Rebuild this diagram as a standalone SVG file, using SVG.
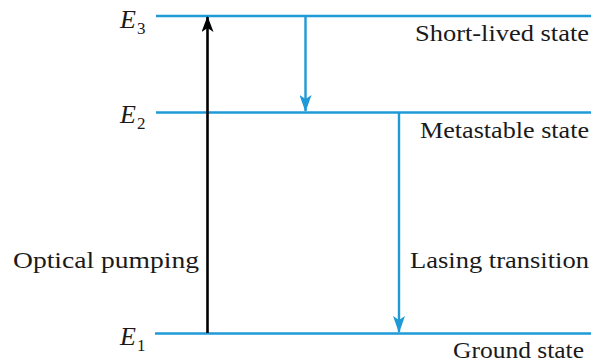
<svg xmlns="http://www.w3.org/2000/svg" width="591" height="363" viewBox="0 0 591 363">
  <style>
    .lvl { stroke: #1f9ad6; stroke-width: 2.6; fill: none; }
    .blue { stroke: #1f9ad6; stroke-width: 2.4; fill: none; }
    .black { stroke: #000; stroke-width: 2.6; fill: none; }
    .lbl { font-family: "Liberation Serif", serif; font-size: 24px; fill: #1a1a1a; }
    .e { font-family: "Liberation Serif", serif; font-size: 26px; font-style: italic; fill: #1a1a1a; }
    .sub { font-family: "Liberation Serif", serif; font-size: 17px; fill: #1a1a1a; }
  </style>
  <defs>
    <marker id="ahBlack" viewBox="0 0 16 12" refX="15" refY="6" markerWidth="16" markerHeight="12" markerUnits="userSpaceOnUse" orient="auto">
      <path d="M0,0 L16,6 L0,12 L4,6 Z" fill="#000"/>
    </marker>
    <marker id="ahBlue" viewBox="0 0 17 12" refX="16" refY="6" markerWidth="17" markerHeight="12" markerUnits="userSpaceOnUse" orient="auto">
      <path d="M0,0 L17,6 L0,12 L4,6 Z" fill="#1f9ad6"/>
    </marker>
  </defs>

  <g id="level-E3">
    <line class="lvl" x1="156" y1="16" x2="591" y2="16"/>
    <text class="e" x="120" y="28">E</text><text class="sub" x="137" y="34">3</text>
    <text class="lbl" x="415" y="41" textLength="174" lengthAdjust="spacingAndGlyphs">Short-lived state</text>
  </g>
  <g id="level-E2">
    <line class="lvl" x1="156" y1="112.5" x2="591" y2="112.5"/>
    <text class="e" x="120" y="123">E</text><text class="sub" x="137" y="129">2</text>
    <text class="lbl" x="420" y="138" textLength="169" lengthAdjust="spacingAndGlyphs">Metastable state</text>
  </g>
  <g id="level-E1">
    <line class="lvl" x1="155" y1="333.5" x2="591" y2="333.5"/>
    <text class="e" x="120" y="345">E</text><text class="sub" x="137" y="351">1</text>
    <text class="lbl" x="453" y="358" textLength="131" lengthAdjust="spacingAndGlyphs">Ground state</text>
  </g>
  <g id="label-pumping">
    <text class="lbl" x="13" y="268" textLength="186" lengthAdjust="spacingAndGlyphs">Optical pumping</text>
  </g>
  <g id="label-lasing">
    <text class="lbl" x="410" y="268" textLength="179" lengthAdjust="spacingAndGlyphs">Lasing transition</text>
  </g>

  <g id="connectors">
    <line class="black" x1="207.5" y1="333" x2="207.5" y2="17" marker-end="url(#ahBlack)"/>
    <line class="blue" x1="305.5" y1="17" x2="305.5" y2="111" marker-end="url(#ahBlue)"/>
    <line class="blue" x1="399" y1="113" x2="399" y2="332" marker-end="url(#ahBlue)"/>
  </g>
</svg>
